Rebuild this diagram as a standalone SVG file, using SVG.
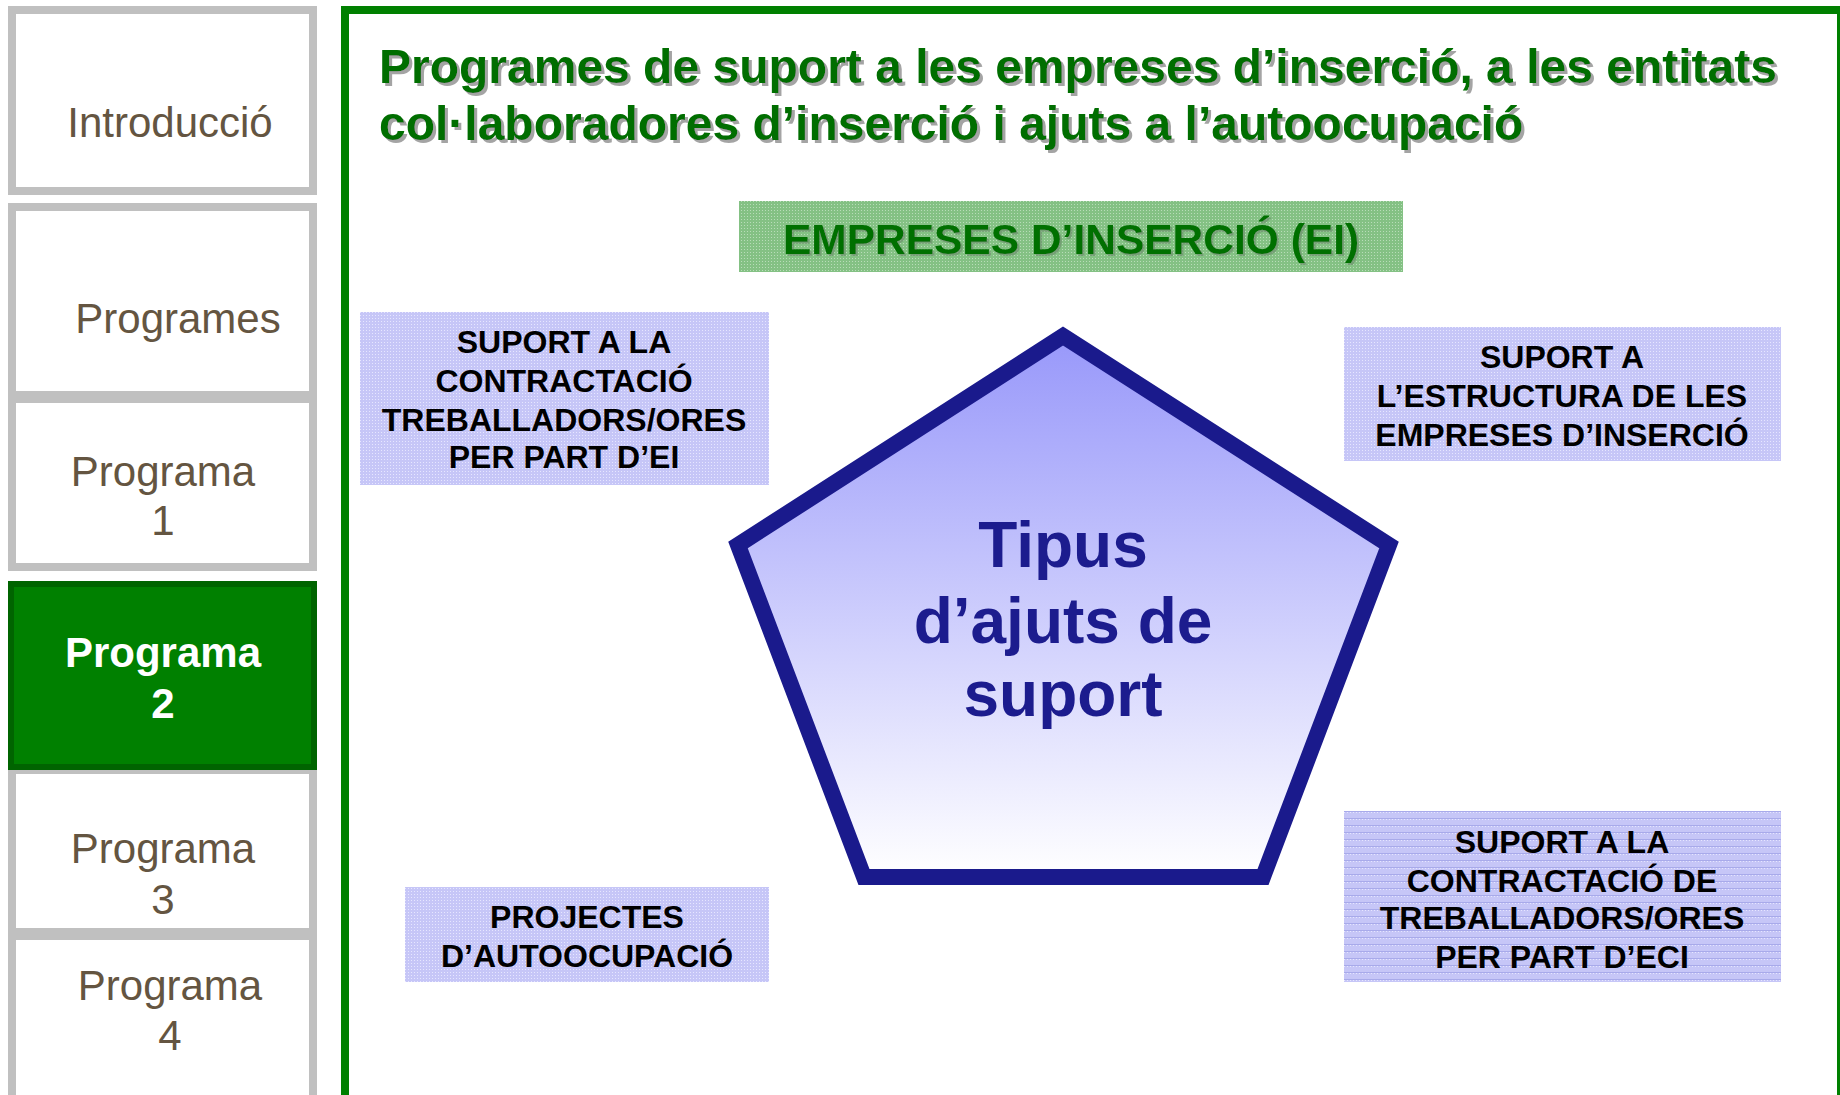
<svg xmlns="http://www.w3.org/2000/svg" width="1840" height="1095" viewBox="0 0 1840 1095">
<style>
.nav{fill:#fff;stroke:#c0c0c0;stroke-width:8}
.navt{font-family:"Liberation Sans",Arial,sans-serif;font-size:42px;fill:#645541;text-anchor:middle}
.navsel{font-family:"Liberation Sans",Arial,sans-serif;font-size:42px;font-weight:bold;fill:#fff;text-anchor:middle}
.title{font-family:"Liberation Sans",Arial,sans-serif;font-size:48px;font-weight:bold;fill:#006e00}
.hdr{font-family:"Liberation Sans",Arial,sans-serif;font-size:42.5px;font-weight:bold;fill:#007000;text-anchor:middle}
.lab{font-family:"Liberation Sans",Arial,sans-serif;font-size:32px;font-weight:bold;fill:#000;text-anchor:middle}
.core{font-family:"Liberation Sans",Arial,sans-serif;font-size:64px;font-weight:bold;fill:#1c1c8e;text-anchor:middle}
</style>
<defs>
<pattern id="dotG" width="3" height="3" patternUnits="userSpaceOnUse"><rect width="3" height="3" fill="#84c184"/><rect width="1" height="1" fill="#b8ddb8"/></pattern>
<pattern id="dotB" width="3" height="3" patternUnits="userSpaceOnUse"><rect width="3" height="3" fill="#c6c6f7"/><rect width="1" height="1" fill="#e6e6ff"/></pattern>
<pattern id="lineB" width="3" height="7" patternUnits="userSpaceOnUse"><rect width="3" height="7" fill="#c6c6f7"/><rect width="1" height="1" fill="#e6e6ff"/><rect y="6" width="3" height="1" fill="#a8aaea"/></pattern>
<linearGradient id="pent" x1="0" y1="0" x2="0" y2="1"><stop offset="0" stop-color="#9898fa"/><stop offset="1" stop-color="#ffffff"/></linearGradient>
<filter id="shd" x="-5%" y="-20%" width="110%" height="140%"><feDropShadow dx="3" dy="3" stdDeviation="0.6" flood-color="#9a9a9a" flood-opacity="0.9"/></filter>
<filter id="shd2" x="-5%" y="-20%" width="110%" height="140%"><feDropShadow dx="2" dy="2" stdDeviation="0.5" flood-color="#6a8a6a" flood-opacity="0.6"/></filter>
</defs>
<rect width="1840" height="1095" fill="#fff"/>
<g id="nav-introduccio"><rect class="nav" x="12" y="10" width="301" height="181"/><text class="navt" x="170" y="137">Introducció</text></g>
<g id="nav-programes"><rect class="nav" x="12" y="207" width="301" height="188"/><text class="navt" x="178" y="333">Programes</text></g>
<g id="nav-programa1"><rect class="nav" x="12" y="399" width="301" height="168"/><text class="navt" x="163" y="486">Programa</text><text class="navt" x="163" y="535">1</text></g>
<g id="nav-programa3"><rect class="nav" x="12" y="770" width="301" height="162"/><text class="navt" x="163" y="863">Programa</text><text class="navt" x="163" y="914">3</text></g>
<g id="nav-programa4"><rect class="nav" x="12" y="936" width="301" height="200"/><text class="navt" x="170" y="1000">Programa</text><text class="navt" x="170" y="1050">4</text></g>
<g id="nav-programa2"><rect x="11" y="584" width="303" height="183" fill="#008000" stroke="#006400" stroke-width="6"/><text class="navsel" x="163" y="667">Programa</text><text class="navsel" x="163" y="718">2</text></g>
<g id="frame"><rect x="345" y="10" width="1496" height="1100" fill="#fff" stroke="#008000" stroke-width="8"/></g>
<g id="title" filter="url(#shd)"><text class="title" x="379" y="83">Programes de suport a les empreses d’inserció, a les entitats</text><text class="title" x="379" y="140">col·laboradores d’inserció i ajuts a l’autoocupació</text></g>
<g id="empreses"><rect x="739" y="201" width="664" height="71" fill="url(#dotG)"/><text class="hdr" x="1071" y="254" filter="url(#shd2)">EMPRESES D’INSERCIÓ (EI)</text></g>
<g id="tipus"><polygon points="1063,336 1389,545 1263,877 864,877 738,545" fill="url(#pent)" stroke="#1a1a8c" stroke-width="16" stroke-linejoin="miter"/><text class="core" x="1063" y="567">Tipus</text><text class="core" x="1063" y="643">d’ajuts de</text><text class="core" x="1063" y="716">suport</text></g>
<g id="suport-ei"><rect x="360" y="312" width="409" height="173" fill="url(#dotB)"/><text class="lab" x="564" y="353">SUPORT A LA</text><text class="lab" x="564" y="392">CONTRACTACIÓ</text><text class="lab" x="564" y="431">TREBALLADORS/ORES</text><text class="lab" x="564" y="468">PER PART D’EI</text></g>
<g id="suport-estructura"><rect x="1344" y="327" width="437" height="134" fill="url(#dotB)"/><text class="lab" x="1562" y="368">SUPORT A</text><text class="lab" x="1562" y="407">L’ESTRUCTURA DE LES</text><text class="lab" x="1562" y="446">EMPRESES D’INSERCIÓ</text></g>
<g id="autoocupacio"><rect x="405" y="887" width="364" height="95" fill="url(#dotB)"/><text class="lab" x="587" y="928">PROJECTES</text><text class="lab" x="587" y="967">D’AUTOOCUPACIÓ</text></g>
<g id="suport-eci"><rect x="1344" y="811" width="437" height="171" fill="url(#lineB)"/><text class="lab" x="1562" y="853">SUPORT A LA</text><text class="lab" x="1562" y="892">CONTRACTACIÓ DE</text><text class="lab" x="1562" y="929">TREBALLADORS/ORES</text><text class="lab" x="1562" y="968">PER PART D’ECI</text></g>
<g id="connectors"/>
</svg>
